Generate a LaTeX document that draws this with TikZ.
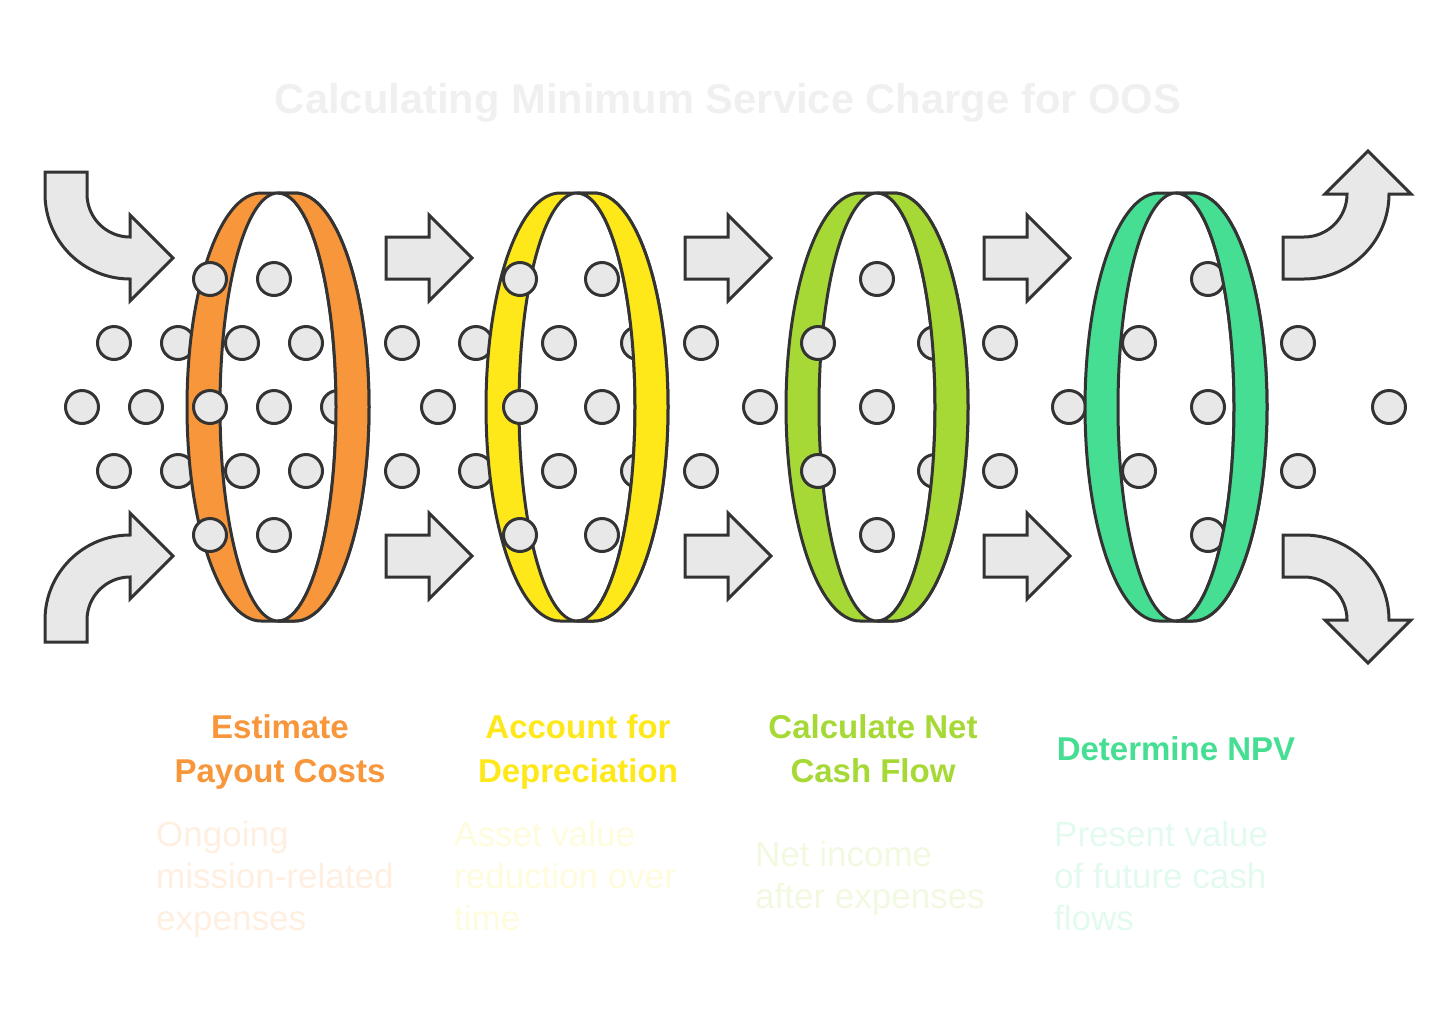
\documentclass[tikz,border=0pt]{standalone}
\usepackage{fontspec}
\setmainfont{Liberation Sans}
\usetikzlibrary{positioning}
\definecolor{edgegray}{HTML}{333333}
\definecolor{pebblegray}{HTML}{E8E8E8}
\definecolor{titlegray}{HTML}{F0F0F0}
\definecolor{ringorange}{HTML}{F7963A}
\definecolor{ringyellow}{HTML}{FFE81A}
\definecolor{ringgreen}{HTML}{A6D936}
\definecolor{ringteal}{HTML}{45DE93}
\tikzset{
    ringline/.style={draw=edgegray, line width=3pt},
    pebble/.style={draw=edgegray, fill=pebblegray, line width=3pt},
    flowarrow/.style={draw=edgegray, fill=pebblegray, line width=3pt},
    titletext/.style={anchor=base, inner sep=0pt, text=titlegray, font=\fontsize{41.7}{50}\selectfont\bfseries},
    stephead/.style={anchor=base, align=center, inner sep=0pt, font=\fontsize{33}{44}\selectfont\bfseries},
    stepnote/.style={anchor=base west, align=left, inner sep=0pt, font=\fontsize{35}{42}\selectfont}
}
% ring body: #1 centre x, #2 colour
\newcommand{\bandring}[2]{%
    \draw[ringline, fill=#2] ({#1-17},193) arc[start angle=-90, end angle=-270, x radius=74, y radius=214]
        -- ({#1+17},621) arc[start angle=90, end angle=-90, x radius=74, y radius=214] -- cycle;
    \draw[ringline, fill=white] (#1,407) ellipse[x radius=58, y radius=214];
}
% front half of the ring, drawn over the dots
\newcommand{\bandfront}[2]{%
    \draw[ringline, fill=#2] (#1,193) -- ({#1+17},193) arc[start angle=-90, end angle=90, x radius=74, y radius=214]
        -- (#1,621) arc[start angle=90, end angle=-90, x radius=58, y radius=214] -- cycle;
}

\begin{document}
\begin{tikzpicture}[x=1pt, y=-1pt]
    \useasboundingbox (0,0) rectangle (1456,1029);

    \node[titletext] (title) at (728,113) {Calculating Minimum Service Charge for OOS};

    % incoming arrows
    \draw[flowarrow] (45,172) -- (87,172) -- (87,194) arc[start angle=180, end angle=90, radius=43]
        -- (130,215) -- (173,258) -- (130,301) -- (130,279) arc[start angle=90, end angle=180, radius=85] -- cycle;
    \draw[flowarrow] (45,642) -- (87,642) -- (87,620) arc[start angle=180, end angle=270, radius=43]
        -- (130,599) -- (173,556) -- (130,513) -- (130,535) arc[start angle=270, end angle=180, radius=85] -- cycle;

    % arrows between rings
    \foreach \x in {386,685,984}{
        \foreach \y in {258,556}
            \draw[flowarrow] (\x,{\y-21}) -- ({\x+43},{\y-21}) -- ({\x+43},{\y-43}) -- ({\x+86},\y)
                -- ({\x+43},{\y+43}) -- ({\x+43},{\y+21}) -- (\x,{\y+21}) -- cycle;
    }

    % outgoing arrows
    \draw[flowarrow] (1283,237) -- (1304,237) arc[start angle=90, end angle=0, radius=43]
        -- (1325,194) -- (1368,151) -- (1411,194) -- (1389,194) arc[start angle=0, end angle=90, radius=85] -- (1283,279) -- cycle;
    \draw[flowarrow] (1283,577) -- (1304,577) arc[start angle=270, end angle=360, radius=43]
        -- (1325,620) -- (1368,663) -- (1411,620) -- (1389,620) arc[start angle=0, end angle=-90, radius=85] -- (1283,535) -- cycle;

    % dots between the rings
    \foreach \x in {114,178,402,476,701,1000,1298}{
        \foreach \y in {343,471}
            \draw[pebble] (\x,\y) circle[radius=16.5];
    }
    \foreach \x in {82,146,438,760,1069,1389}
        \draw[pebble] (\x,407) circle[radius=16.5];

    % ring 1
    \bandring{278}{ringorange}
    \foreach \x/\y in {210/279,274/279,242/343,306/343,210/407,274/407,338/407,242/471,306/471,210/535,274/535}
        \draw[pebble] (\x,\y) circle[radius=16.5];
    \bandfront{278}{ringorange}

    % ring 2
    \bandring{577}{ringyellow}
    \foreach \x/\y in {520/279,602/279,559/343,638/343,520/407,602/407,559/471,638/471,520/535,602/535}
        \draw[pebble] (\x,\y) circle[radius=16.5];
    \bandfront{577}{ringyellow}

    % ring 3
    \bandring{877}{ringgreen}
    \foreach \x/\y in {877/279,818/343,935/343,877/407,818/471,935/471,877/535}
        \draw[pebble] (\x,\y) circle[radius=16.5];
    \bandfront{877}{ringgreen}

    % ring 4
    \bandring{1176}{ringteal}
    \foreach \x/\y in {1208/279,1139/343,1208/407,1139/471,1208/535}
        \draw[pebble] (\x,\y) circle[radius=16.5];
    \bandfront{1176}{ringteal}

    % step labels (base = last line)
    \node[stephead, text=ringorange] (head1) at (280,782) {Estimate\\Payout Costs};
    \node[stephead, text=ringyellow] (head2) at (578,782) {Account for\\Depreciation};
    \node[stephead, text=ringgreen] (head3) at (873,782) {Calculate Net\\Cash Flow};
    \node[stephead, text=ringteal] (head4) at (1176,760) {Determine NPV};

    \node[stepnote, text=ringorange!15] (note1) at (156,930) {Ongoing\\mission-related\\expenses};
    \node[stepnote, text=ringyellow!15] (note2) at (454,930) {Asset value\\reduction over\\time};
    \node[stepnote, text=ringgreen!15] (note3) at (755,908) {Net income\\after expenses};
    \node[stepnote, text=ringteal!15] (note4) at (1054,930) {Present value\\of future cash\\flows};
\end{tikzpicture}
\end{document}
